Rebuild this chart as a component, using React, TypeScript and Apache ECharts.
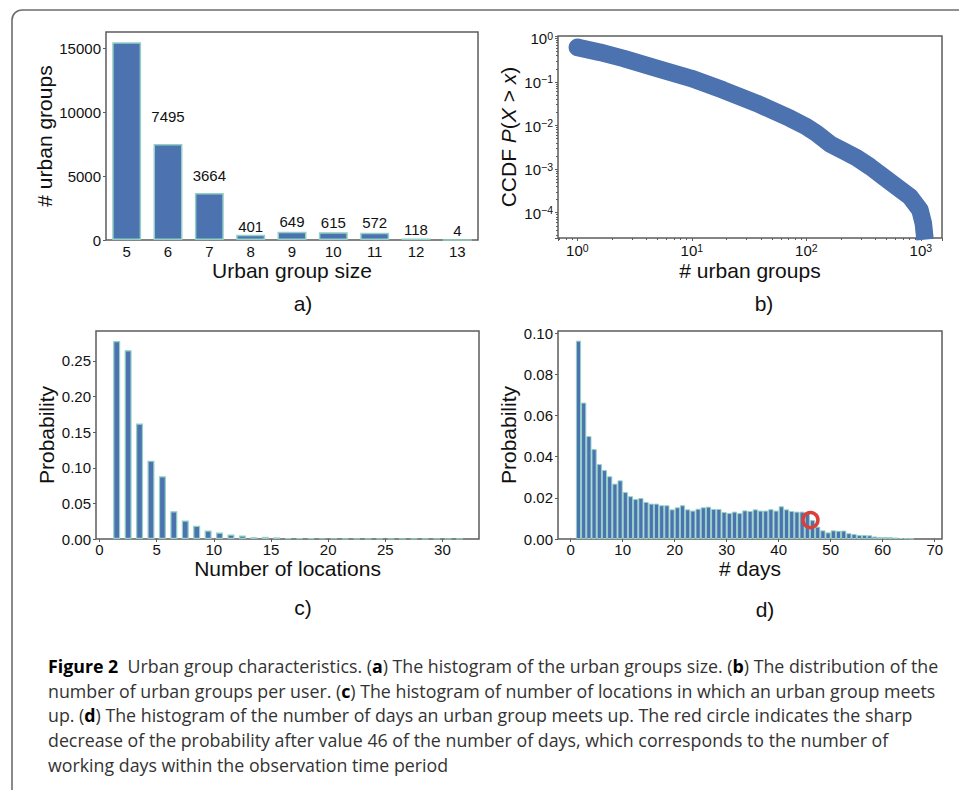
import React, { useEffect, useRef } from 'react';
import * as echarts from 'echarts';

// ---------- data ----------
const groupSizes = ['5', '6', '7', '8', '9', '10', '11', '12', '13'];
const groupCounts = [15445, 7495, 3664, 401, 649, 615, 572, 118, 4];
const groupCountLabels = ['', '7495', '3664', '401', '649', '615', '572', '118', '4'];

const ccdfUrbanGroups = [1, 1.58, 2.52, 4.94, 9.84, 18.8, 36.9, 72.1, 97.5, 123, 161, 210, 275, 360, 471, 615, 805, 984, 1052, 1088];
const ccdfProb = [0.621, 0.477, 0.347, 0.205, 0.121, 0.0652, 0.0323, 0.0146, 0.00975, 0.0066, 0.00377, 0.00264, 0.00183, 0.00114, 0.00067, 0.000395, 0.000233, 0.000115, 0.000057, 0.000024];

const locationBinCenters = [1.5, 2.5, 3.5, 4.5, 5.5, 6.5, 7.5, 8.5, 9.5, 10.5, 11.5, 12.5, 13.5, 14.5, 15.5, 16.5, 17.5, 18.5, 19.5, 20.5, 21.5, 22.5, 23.5, 24.5, 25.5, 26.5, 27.5, 28.5, 29.5, 30.5, 31.5];
const locationProb = [0.278, 0.265, 0.162, 0.110, 0.088, 0.039, 0.026, 0.0187, 0.012, 0.009, 0.0064, 0.005, 0.0026, 0.0031, 0.0023, 0.0013, 0.0009, 0.0008, 0.0007, 0.0007, 0.0006, 0.0006, 0.0005, 0.0005, 0.0004, 0.0004, 0.0003, 0.0003, 0.0003, 0.0002, 0.0002];

const dayBinCenters = [1.5, 2.5, 3.5, 4.5, 5.5, 6.5, 7.5, 8.5, 9.5, 10.5, 11.5, 12.5, 13.5, 14.5, 15.5, 16.5, 17.5, 18.5, 19.5, 20.5, 21.5, 22.5, 23.5, 24.5, 25.5, 26.5, 27.5, 28.5, 29.5, 30.5, 31.5, 32.5, 33.5, 34.5, 35.5, 36.5, 37.5, 38.5, 39.5, 40.5, 41.5, 42.5, 43.5, 44.5, 45.5, 46.5, 47.5, 48.5, 49.5, 50.5, 51.5, 52.5, 53.5, 54.5, 55.5, 56.5, 57.5, 58.5, 59.5, 60.5, 61.5, 62.5, 63.5, 64.5, 65.5];
const dayProb = [0.0964, 0.0663, 0.0500, 0.0437, 0.0364, 0.0335, 0.0305, 0.0269, 0.0285, 0.0228, 0.0208, 0.0194, 0.0199, 0.0180, 0.0172, 0.0172, 0.0164, 0.0164, 0.0144, 0.0154, 0.0164, 0.0144, 0.0138, 0.0147, 0.0154, 0.0157, 0.0146, 0.0146, 0.0131, 0.0126, 0.0133, 0.0126, 0.0139, 0.0136, 0.0144, 0.0138, 0.0138, 0.0145, 0.0138, 0.0159, 0.0144, 0.0136, 0.0133, 0.0133, 0.0128, 0.0092, 0.0060, 0.0042, 0.0032, 0.0042, 0.0040, 0.0041, 0.0028, 0.0024, 0.0019, 0.0019, 0.0018, 0.0012, 0.0010, 0.0010, 0.0009, 0.0007, 0.0005, 0.0004, 0.0002];

const highlightDay = [46.1];
const highlightProb = [0.0092];

// ---------- styles ----------
const FONT = '"Liberation Sans", Arial, sans-serif';
const CAPTION_FONT = '"Open Sans", "Noto Sans", sans-serif';
const TXT = '#111';
const SPINE = '#5c5c5c';
const BAR_FILL = '#4c72b0';
const BAR_EDGE = '#93d1c6';
const labelLift = [0, 20, 10, 1, 3, 2, 3, 1, 1];

const tickLabel = { fontFamily: FONT, fontSize: 15, color: TXT };
const nameStyle = { fontFamily: FONT, fontSize: 21, color: TXT };
const axisTick = { show: true, length: 3, inside: false, lineStyle: { color: SPINE, width: 1 } };
const noLine = { show: false, onZero: false };

const supFmt = (v: number) => {
  const e = Math.log10(v);
  const r = Math.round(e);
  if (Math.abs(e - r) > 1e-6) return '';
  const s = r < 0 ? '\u2212' + -r : String(r);
  return '{b|10}{s|' + s + '}';
};
const supRich = {
  b: { fontFamily: FONT, fontSize: 15, color: TXT, verticalAlign: 'bottom', lineHeight: 16 },
  s: { fontFamily: FONT, fontSize: 10.5, color: TXT, verticalAlign: 'top', lineHeight: 8 },
};

const grids = [
  { left: 106, top: 32, width: 372, height: 208 },
  { left: 558, top: 36, width: 384, height: 202 },
  { left: 96, top: 331, width: 383, height: 208 },
  { left: 558, top: 331, width: 384, height: 208 },
].map((g) => ({ ...g, show: true, borderColor: SPINE, borderWidth: 1.5, backgroundColor: 'transparent' }));

const captionLines = [
  '{b|Figure 2}  Urban group characteristics. ({b|a}) The histogram of the urban groups size. ({b|b}) The distribution of the',
  'number of urban groups per user. ({b|c}) The histogram of number of locations in which an urban group meets',
  'up. ({b|d}) The histogram of the number of days an urban group meets up. The red circle indicates the sharp',
  'decrease of the probability after value 46 of the number of days, which corresponds to the number of',
  'working days within the observation time period',
];

export default function App() {
  const ref = useRef<HTMLDivElement>(null);
  useEffect(() => {
    if (!ref.current) return;
    const chart = echarts.init(ref.current, null, { renderer: 'svg' });
    const capFs = 17.8;
    const plain = (v: number) => String(v);
    const nm = { nameLocation: 'middle', nameMoveOverlap: false };
    const option: any = {
      animation: false,
      backgroundColor: '#ffffff',
      grid: grids,
      xAxis: [
        {
          gridIndex: 0, type: 'category', data: groupSizes, boundaryGap: true,
          axisLine: noLine, axisTick: { show: false },
          axisLabel: { ...tickLabel, margin: 4 },
          name: 'Urban group size', ...nm, nameGap: 20, nameTextStyle: nameStyle,
        },
        {
          gridIndex: 1, type: 'log', min: 0.678, max: 1531, logBase: 10,
          axisLine: noLine, axisTick, minorTick: { show: true, splitNumber: 9, length: 2, lineStyle: { color: SPINE } },
          splitLine: { show: false }, minorSplitLine: { show: false },
          axisLabel: { ...tickLabel, margin: 4, formatter: supFmt, rich: supRich, showMinLabel: false, showMaxLabel: false },
          name: '# urban groups', ...nm, nameGap: 22, nameTextStyle: nameStyle,
        },
        {
          gridIndex: 2, type: 'value', min: -0.31, max: 33.2,
          axisLine: noLine, axisTick, splitLine: { show: false },
          axisLabel: { ...tickLabel, margin: 3, showMinLabel: false, showMaxLabel: false, formatter: plain },
          name: 'Number of locations', ...nm, nameGap: 19, nameTextStyle: nameStyle,
        },
        {
          gridIndex: 3, type: 'value', min: -2.44, max: 71.4,
          axisLine: noLine, axisTick, splitLine: { show: false },
          axisLabel: { ...tickLabel, margin: 3, showMinLabel: false, showMaxLabel: false, formatter: plain },
          name: '# days', ...nm, nameGap: 19, nameTextStyle: nameStyle,
        },
      ],
      yAxis: [
        {
          gridIndex: 0, type: 'value', min: 0, max: 16250, interval: 5000,
          axisLine: noLine, axisTick, splitLine: { show: false },
          axisLabel: { ...tickLabel, margin: 5, showMaxLabel: false, formatter: plain },
          name: '# urban groups', ...nm, nameGap: 51, nameTextStyle: nameStyle,
        },
        {
          gridIndex: 1, type: 'log', min: 2.63e-5, max: 1.13, logBase: 10,
          axisLine: noLine, axisTick, minorTick: { show: true, splitNumber: 9, length: 2, lineStyle: { color: SPINE } },
          splitLine: { show: false }, minorSplitLine: { show: false },
          axisLabel: { ...tickLabel, margin: 5, formatter: supFmt, rich: supRich, showMinLabel: false, showMaxLabel: false },
          name: 'CCDF {i|P}({i|X} > {i|x})', ...nm, nameGap: 39,
          nameTextStyle: {
            ...nameStyle,
            rich: { i: { fontFamily: FONT, fontSize: 21, color: TXT, fontStyle: 'italic' } },
          },
        },
        {
          gridIndex: 2, type: 'value', min: 0, max: 0.292, interval: 0.05,
          axisLine: noLine, axisTick, splitLine: { show: false },
          axisLabel: { ...tickLabel, margin: 5, showMaxLabel: false, formatter: (v: number) => v.toFixed(2) },
          name: 'Probability', ...nm, nameGap: 39, nameTextStyle: nameStyle,
        },
        {
          gridIndex: 3, type: 'value', min: 0, max: 0.1011, interval: 0.02,
          axisLine: noLine, axisTick, splitLine: { show: false },
          axisLabel: { ...tickLabel, margin: 5, formatter: (v: number) => v.toFixed(2) },
          name: 'Probability', ...nm, nameGap: 39, nameTextStyle: nameStyle,
        },
      ],
      series: [
        {
          type: 'bar', xAxisIndex: 0, yAxisIndex: 0, barCategoryGap: '30%',
          itemStyle: { color: BAR_FILL, borderColor: BAR_EDGE, borderWidth: 1.5 },
          data: groupCounts.map((v, i) => ({
            value: v,
            label: {
              show: groupCountLabels[i] !== '',
              position: 'top',
              distance: labelLift[i],
              formatter: groupCountLabels[i],
              ...tickLabel,
            },
          })),
        },
        {
          type: 'line', xAxisIndex: 1, yAxisIndex: 1,
          data: ccdfUrbanGroups.map((x, i) => [x, ccdfProb[i]]),
          showSymbol: false, symbol: 'none', smooth: false, clip: true,
          lineStyle: { color: BAR_FILL, width: 17.5, cap: 'butt', join: 'round', opacity: 1 },
        },
        {
          type: 'scatter', xAxisIndex: 1, yAxisIndex: 1, symbol: 'circle', symbolSize: 17.5,
          itemStyle: { color: BAR_FILL, opacity: 1 },
          data: [[ccdfUrbanGroups[0], ccdfProb[0]]],
        },
        {
          type: 'bar', xAxisIndex: 2, yAxisIndex: 2, barWidth: 7,
          itemStyle: { color: BAR_FILL, borderColor: BAR_EDGE, borderWidth: 1.2 },
          data: locationBinCenters.map((x, i) => [x, locationProb[i]]),
        },
        {
          type: 'bar', xAxisIndex: 3, yAxisIndex: 3, barWidth: 5.2,
          itemStyle: { color: BAR_FILL, borderColor: BAR_EDGE, borderWidth: 1 },
          data: dayBinCenters.map((x, i) => [x, dayProb[i]]),
        },
        {
          type: 'scatter', xAxisIndex: 3, yAxisIndex: 3,
          symbol: 'circle', symbolSize: 15, z: 10,
          itemStyle: { color: 'rgba(0,0,0,0)', borderColor: '#d9403c', borderWidth: 3.5, opacity: 1 },
          data: highlightDay.map((x, i) => [x, highlightProb[i]]),
        },
      ],
      graphic: [
        {
          type: 'rect', silent: true,
          shape: { x: 12, y: 10, width: 1200, height: 1000, r: [10, 0, 0, 0] },
          style: { fill: 'none', stroke: '#6e6e6e', lineWidth: 1.6 },
        },
        ...[['a)', 303, 303], ['b)', 764, 303], ['c)', 303, 607], ['d)', 765, 609]].map(([t, x, y]) => ({
          type: 'text', x, y, silent: true,
          style: { text: t, fontFamily: FONT, fontSize: 21, fill: TXT, align: 'center', verticalAlign: 'middle' },
        })),
        ...captionLines.map((t, i) => ({
          type: 'text', x: 48, y: 666 + i * 24.7, silent: true,
          style: {
            text: t, fontFamily: CAPTION_FONT, fontSize: capFs, fill: '#333',
            align: 'left', verticalAlign: 'middle',
            rich: {
              b: { fontFamily: CAPTION_FONT, fontSize: capFs, fontWeight: 'bold', fill: '#000' },
            },
          },
        })),
      ],
    };
    chart.setOption(option);
    return () => chart.dispose();
  }, []);
  return (
    <div
      ref={ref}
      style={{ position: 'fixed', left: 0, top: 0, width: 959, height: 790, background: '#fff' }}
    />
  );
}
